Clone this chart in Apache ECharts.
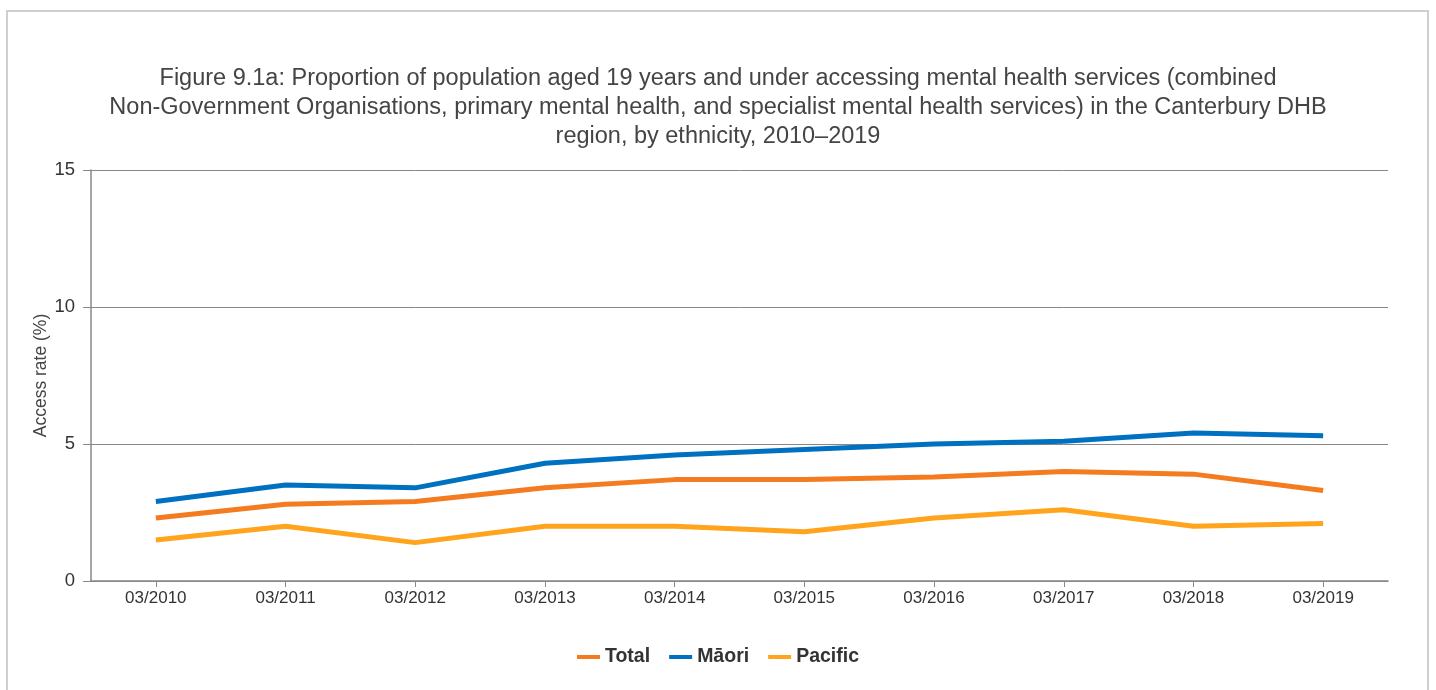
<!DOCTYPE html>
<html>
<head>
<meta charset="utf-8">
<script src="https://cdn.jsdelivr.net/npm/echarts@6/dist/echarts.min.js"></script>
<style>
html,body{margin:0;padding:0;background:#fff;}
#frame{position:absolute;left:6px;top:10px;width:1423px;height:700px;border:2px solid #cfcfcf;box-sizing:border-box;}
#chart{position:absolute;left:0;top:0;width:1436px;height:690px;}
</style>
</head>
<body>
<div id="frame"></div>
<div id="chart"></div>
<script>
const categories = ['03/2010','03/2011','03/2012','03/2013','03/2014','03/2015','03/2016','03/2017','03/2018','03/2019'];
const totalValues = [2.3, 2.8, 2.9, 3.4, 3.7, 3.7, 3.8, 4.0, 3.9, 3.3];
const maoriValues = [2.9, 3.5, 3.4, 4.3, 4.6, 4.8, 5.0, 5.1, 5.4, 5.3];
const pacificValues = [1.5, 2.0, 1.4, 2.0, 2.0, 1.8, 2.3, 2.6, 2.0, 2.1];
const yTicks = [0, 5, 10, 15];
const titleText = 'Figure 9.1a: Proportion of population aged 19 years and under accessing mental health services (combined\nNon-Government Organisations, primary mental health, and specialist mental health services) in the Canterbury DHB\nregion, by ethnicity, 2010\u20132019';

const chart = echarts.init(document.getElementById('chart'), null, {renderer:'canvas'});
const font = 'Liberation Sans, Arial, sans-serif';
chart.setOption({
  animation: false,
  backgroundColor: 'transparent',
  title: {
    text: titleText,
    left: 'center',
    top: 59,
    textStyle: {fontFamily: font, fontSize: 23.5, fontWeight: 'normal', color: '#444', lineHeight: 29}
  },
  legend: {
    bottom: 18,
    left: 'center',
    itemWidth: 23,
    itemHeight: 4,
    itemGap: 19,
    icon: 'rect',
    textStyle: {fontFamily: font, fontSize: 19.5, fontWeight: 'bold', color: '#333'},
    data: ['Total','Māori','Pacific']
  },
  grid: {left: 91, right: 48, top: 170, bottom: 109, containLabel: false},
  xAxis: {
    type: 'category',
    data: categories,
    boundaryGap: true,
    axisLine: {lineStyle: {color: '#888', width: 1.5}},
    axisTick: {show: true, alignWithLabel: true, length: 6, lineStyle: {color: '#888'}},
    axisLabel: {fontFamily: font, fontSize: 17, color: '#333', margin: 9}
  },
  yAxis: {
    type: 'value',
    min: yTicks[0],
    max: yTicks[yTicks.length-1],
    interval: 5,
    name: 'Access rate (%)',
    nameLocation: 'middle',
    nameGap: 41,
    nameMoveOverlap: false,
    nameTextStyle: {fontFamily: font, fontSize: 17.5, color: '#444'},
    axisLine: {show: true, lineStyle: {color: '#888', width: 1.5}},
    axisTick: {show: true, length: 8, lineStyle: {color: '#888'}},
    axisLabel: {fontFamily: font, fontSize: 18.5, color: '#333', margin: 16},
    splitLine: {lineStyle: {color: '#888', width: 1}}
  },
  series: [
    {name: 'Total', type: 'line', data: totalValues, color: '#F47B20', symbol: 'none', lineStyle: {width: 5}},
    {name: 'Māori', type: 'line', data: maoriValues, color: '#0070C0', symbol: 'none', lineStyle: {width: 5}},
    {name: 'Pacific', type: 'line', data: pacificValues, color: '#FFA41C', symbol: 'none', lineStyle: {width: 5}}
  ]
});
</script>
</body>
</html>
